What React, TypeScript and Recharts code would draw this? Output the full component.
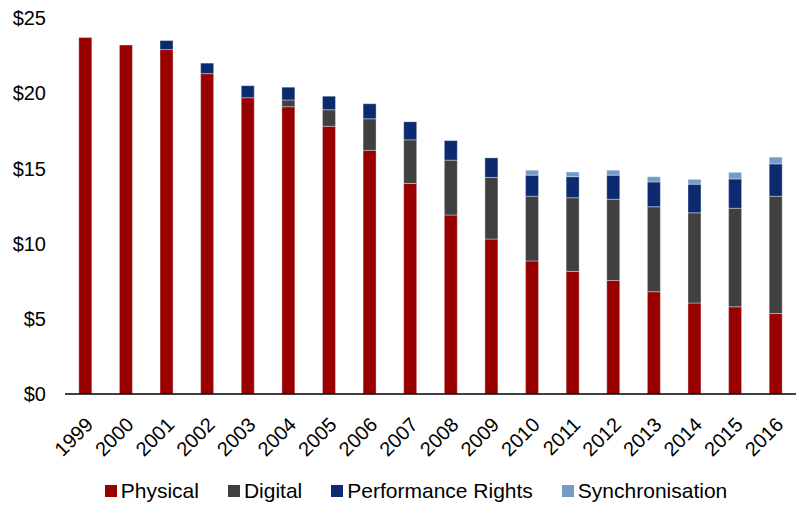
import React from "react";
import { BarChart, Bar, XAxis, YAxis, Legend } from "recharts";

const years = ["1999", "2000", "2001", "2002", "2003", "2004", "2005", "2006", "2007", "2008", "2009", "2010", "2011", "2012", "2013", "2014", "2015", "2016"];
const physical = [23.7, 23.2, 22.9, 21.3, 19.7, 19.1, 17.8, 16.2, 14.0, 11.9, 10.3, 8.85, 8.15, 7.55, 6.8, 6.05, 5.8, 5.35];
const digital = [0, 0, 0, 0, 0, 0.45, 1.1, 2.1, 2.9, 3.65, 4.1, 4.3, 4.9, 5.4, 5.65, 6.0, 6.55, 7.8];
const performance = [0, 0, 0.6, 0.7, 0.8, 0.85, 0.9, 1.0, 1.2, 1.3, 1.3, 1.4, 1.4, 1.6, 1.65, 1.9, 1.95, 2.15];
const sync = [0, 0, 0, 0, 0, 0, 0, 0, 0, 0, 0, 0.33, 0.31, 0.33, 0.35, 0.32, 0.44, 0.45];
const yTicks = [0, 5, 10, 15, 20, 25];

const series = [
  { key: "physical", name: "Physical", color: "#990000" },
  { key: "digital", name: "Digital", color: "#404040" },
  { key: "performance", name: "Performance Rights", color: "#0b2a6f" },
  { key: "sync", name: "Synchronisation", color: "#749bc8" },
];

const data = years.map((y, i) => ({
  year: y,
  physical: physical[i],
  digital: digital[i],
  performance: performance[i],
  sync: sync[i],
}));

const FONT = "'Liberation Sans', Arial, sans-serif";

function LegendBox() {
  return (
    <div style={{ display: "flex", justifyContent: "center", gap: 29, height: 30, alignItems: "center", fontFamily: FONT, fontSize: 21, color: "#000", paddingLeft: 36 }}>
      {series.map((s) => (
        <div key={s.key} style={{ display: "flex", alignItems: "center" }}>
          <span style={{ width: 12, height: 12, background: s.color, display: "inline-block", marginRight: 4 }} />
          <span>{s.name}</span>
        </div>
      ))}
    </div>
  );
}

// rotated year labels, anchored just right of each bar
function YearTick({ x, y, payload }: any) {
  return (
    <g transform={`translate(${x + 9},${y + 32})`}>
      <text textAnchor="end" transform="rotate(-45)" fontSize={20} fontFamily={FONT} fill="#000">
        {payload.value}
      </text>
    </g>
  );
}

export default function App() {
  return (
    <div style={{ width: 796, height: 506 }}>
      <style>{`body{margin:0}`}</style>
      <BarChart width={796} height={506} data={data} margin={{ top: 18, right: 0, left: 0, bottom: 0 }} barCategoryGap="34%">
        <XAxis
          dataKey="year"
          height={82}
          interval={0}
          tickLine={false}
          tickSize={0}
          tickMargin={0}
          axisLine={{ stroke: "#000", strokeWidth: 1.5 }}
          tick={<YearTick />}
        />
        <YAxis
          domain={[0, 25]}
          ticks={yTicks}
          width={65}
          axisLine={false}
          tickLine={false}
          tickMargin={13}
          tickFormatter={(v) => `$${v}`}
          tick={{ fontSize: 20, fill: "#000", fontFamily: FONT }}
        />
        <Legend verticalAlign="bottom" content={() => <LegendBox />} />
        {series.map((s) => (
          <Bar key={s.key} dataKey={s.key} name={s.name} stackId="a" fill={s.color} stroke="rgba(255,255,255,0.45)" strokeWidth={0.8} isAnimationActive={false} />
        ))}
      </BarChart>
    </div>
  );
}
